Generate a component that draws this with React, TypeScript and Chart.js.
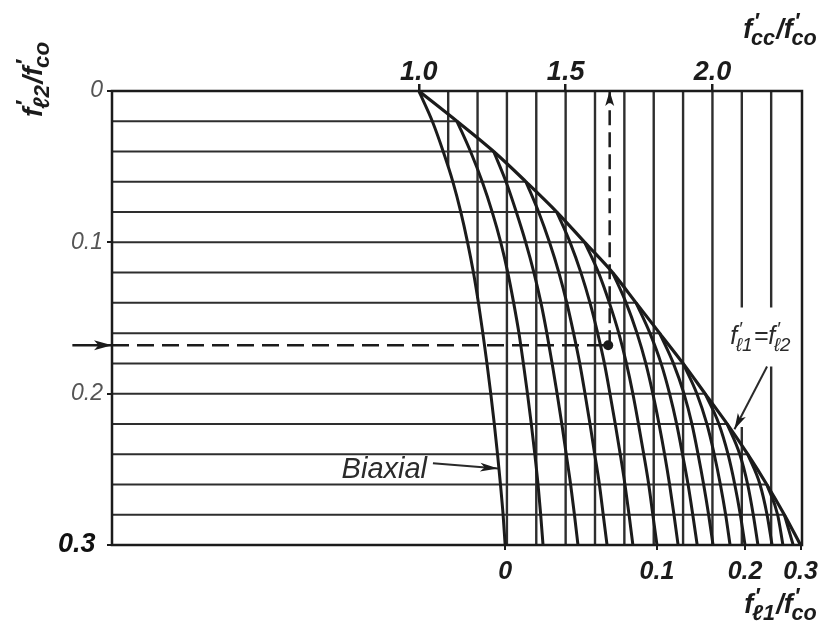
import React, { useEffect, useRef } from 'react';
import { Chart, registerables } from 'chart.js';

Chart.register(...registerables);

// ---- axis ranges ----
const X_MIN = -0.045; // f'cc/f'co at left frame
const X_MAX = 2.305; // f'cc/f'co at right frame
const Y_MIN = 0;
const Y_MAX = 0.3;

// ---- data ----
// f'l2/f'co levels (horizontal grid, 0 at top)
const FL2_LEVELS = [0, 0.02, 0.04, 0.06, 0.08, 0.1, 0.12, 0.14, 0.16, 0.18, 0.2, 0.22, 0.24, 0.26, 0.28, 0.3];
// envelope f'l1 = f'l2 : f'cc/f'co at each level
const ENVELOPE_FCC = [1.0, 1.13, 1.255, 1.365, 1.47, 1.565, 1.66, 1.74, 1.82, 1.9, 1.975, 2.05, 2.12, 2.185, 2.245, 2.3];
// smallest confining ratio f'l1/f'co of each curve
const FL1_VALUES = [0, 0.02, 0.04, 0.06, 0.08, 0.1, 0.12, 0.14, 0.16, 0.18, 0.2, 0.22, 0.24, 0.26, 0.28];
// f'cc/f'co along each curve, curve k starts at FL2_LEVELS[k] (on the envelope) and runs to 0.3
const CURVE_FCC = [
  [1.0, 1.046, 1.083, 1.116, 1.143, 1.166, 1.186, 1.203, 1.218, 1.232, 1.245, 1.257, 1.268, 1.278, 1.287, 1.294],
  [1.13, 1.176, 1.216, 1.25, 1.279, 1.303, 1.323, 1.341, 1.356, 1.37, 1.383, 1.395, 1.406, 1.415, 1.423],
  [1.255, 1.297, 1.332, 1.364, 1.392, 1.416, 1.436, 1.454, 1.471, 1.487, 1.502, 1.517, 1.53, 1.542],
  [1.365, 1.408, 1.445, 1.477, 1.504, 1.527, 1.548, 1.566, 1.583, 1.599, 1.615, 1.628, 1.641],
  [1.47, 1.515, 1.552, 1.583, 1.609, 1.632, 1.651, 1.669, 1.686, 1.702, 1.716, 1.729],
  [1.565, 1.612, 1.649, 1.681, 1.707, 1.729, 1.748, 1.766, 1.783, 1.797, 1.811],
  [1.66, 1.706, 1.743, 1.773, 1.797, 1.818, 1.837, 1.854, 1.869, 1.883],
  [1.74, 1.787, 1.825, 1.854, 1.878, 1.898, 1.917, 1.933, 1.948],
  [1.82, 1.867, 1.903, 1.93, 1.951, 1.97, 1.987, 2.002],
  [1.9, 1.947, 1.981, 2.006, 2.027, 2.045, 2.06],
  [1.975, 2.022, 2.053, 2.076, 2.095, 2.111],
  [2.05, 2.093, 2.12, 2.139, 2.155],
  [2.12, 2.162, 2.186, 2.203],
  [2.185, 2.222, 2.24],
  [2.245, 2.275],
];

// vertical grid segments (f'cc/f'co) with their f'l2 extent
const VGRID_X = [1.1, 1.2, 1.3, 1.4, 1.5, 1.6, 1.7, 1.8, 1.9, 2.0, 2.1, 2.1, 2.2, 2.2];
const VGRID_FROM = [0, 0, 0, 0, 0, 0, 0, 0, 0, 0, 0, 0.222, 0, 0.182];
const VGRID_TO = [0.05, 0.137, 0.3, 0.3, 0.3, 0.3, 0.3, 0.3, 0.3, 0.3, 0.143, 0.3, 0.143, 0.3];

// tick labels
const TOP_TICKS = [1.0, 1.5, 2.0];
const TOP_LABELS = ['1.0', '1.5', '2.0'];
const LEFT_TICKS = [0, 0.1, 0.2, 0.3];
const LEFT_LABELS = ['0', '0.1', '0.2', '0.3 '];
const BOTTOM_LABEL_FL1 = [0, 0.1, 0.2, 0.3];
const BOTTOM_LABELS = ['0', '0.1', '0.2', '0.3'];

// worked example (dashed)
const EXAMPLE_FL2 = 0.168;
const EXAMPLE_FCC = 1.645;
const EXAMPLE_ARROW_FCC = 1.65;
const ENTRY_ARROW_FCC = -0.18;

// annotation arrows
const BIAXIAL_ARROW_X = [1.048, 1.27];
const BIAXIAL_ARROW_Y = [0.246, 0.2495];
const ENV_ARROW_X = [2.186, 2.075];
const ENV_ARROW_Y = [0.182, 0.2235];

const FAMILY = "'Liberation Sans', 'DejaVu Sans', sans-serif";
const INK = '#1b1b1b';
const GRID_INK = '#2e2e2e';

function bottomEndFcc(fl1: number): number {
  const k = FL1_VALUES.findIndex((v) => Math.abs(v - fl1) < 1e-9);
  if (k >= 0) return CURVE_FCC[k][CURVE_FCC[k].length - 1];
  return ENVELOPE_FCC[ENVELOPE_FCC.length - 1];
}
const BOTTOM_TICKS = BOTTOM_LABEL_FL1.map(bottomEndFcc);

type Tok = { m: string; p?: boolean; s?: string };

function drawRich(
  ctx: CanvasRenderingContext2D,
  toks: Tok[],
  x: number,
  y: number,
  size: number,
  bold: boolean,
  align: 'left' | 'right' | 'center',
  color: string,
  subScale = 0.8
) {
  const font = (sz: number) => `italic ${bold ? 'bold ' : ''}${sz}px ${FAMILY}`;
  const subSz = size * subScale;
  const widths = toks.map((t) => {
    ctx.font = font(size);
    const wm = ctx.measureText(t.m).width;
    ctx.font = font(subSz);
    const ws = t.s ? ctx.measureText(t.s).width : 0;
    const wp = t.p ? ctx.measureText('\u2032').width + size * 0.05 : 0;
    return { wm, extra: Math.max(ws, wp) };
  });
  const total = widths.reduce((a, w) => a + w.wm + w.extra, 0);
  let cx = align === 'left' ? x : align === 'right' ? x - total : x - total / 2;
  ctx.fillStyle = color;
  ctx.textBaseline = 'alphabetic';
  ctx.textAlign = 'left';
  toks.forEach((t, i) => {
    ctx.font = font(size);
    ctx.fillText(t.m, cx, y);
    cx += widths[i].wm;
    ctx.font = font(subSz);
    if (t.p) ctx.fillText('\u2032', cx + size * 0.05, y - size * 0.38);
    if (t.s) ctx.fillText(t.s, cx - size * 0.05, y + size * 0.26);
    cx += widths[i].extra;
  });
}

const TOP_TITLE: Tok[] = [{ m: 'f', p: true, s: 'cc' }, { m: '/' }, { m: 'f', p: true, s: 'co' }];
const BOTTOM_TITLE: Tok[] = [{ m: 'f', p: true, s: '\u21131' }, { m: '/' }, { m: 'f', p: true, s: 'co' }];
const LEFT_TITLE: Tok[] = [{ m: 'f', p: true, s: '\u21132' }, { m: '/' }, { m: 'f', p: true, s: 'co' }];
const ENV_LABEL: Tok[] = [{ m: 'f', p: true, s: '\u21131' }, { m: '=' }, { m: 'f', p: true, s: '\u21132' }];

const framePlugin = {
  id: 'frame',
  beforeDraw(chart: any) {
    const { ctx, width, height } = chart;
    ctx.save();
    ctx.fillStyle = '#ffffff';
    ctx.fillRect(0, 0, width, height);
    ctx.restore();
  },
  afterDatasetsDraw(chart: any) {
    const { ctx, chartArea: a } = chart;
    ctx.save();
    ctx.strokeStyle = INK;
    ctx.lineWidth = 2.5;
    ctx.strokeRect(a.left, a.top, a.right - a.left, a.bottom - a.top);
    ctx.restore();
  },
};

const arrowPlugin = {
  id: 'arrowheads',
  afterDatasetsDraw(chart: any) {
    const ctx = chart.ctx;
    chart.data.datasets.forEach((ds: any, i: number) => {
      if (!ds.arrowHead) return;
      const pts = chart.getDatasetMeta(i).data;
      const a = pts[pts.length - 2];
      const b = pts[pts.length - 1];
      const ang = Math.atan2(b.y - a.y, b.x - a.x);
      const L = ds.arrowLength || 15;
      const W = ds.arrowWidth || 4.5;
      ctx.save();
      ctx.setLineDash([]);
      ctx.fillStyle = INK;
      ctx.translate(b.x, b.y);
      ctx.rotate(ang);
      ctx.beginPath();
      ctx.moveTo(0, 0);
      ctx.lineTo(-L, -W);
      ctx.lineTo(-L * 0.75, 0);
      ctx.lineTo(-L, W);
      ctx.closePath();
      ctx.fill();
      ctx.restore();
    });
  },
};

const textPlugin = {
  id: 'texts',
  afterDraw(chart: any) {
    const ctx: CanvasRenderingContext2D = chart.ctx;
    const sx = chart.scales.x;
    const sy = chart.scales.y;
    ctx.save();
    // top axis title
    drawRich(ctx, TOP_TITLE, 818, 38, 27, true, 'right', INK);
    // bottom axis title
    drawRich(ctx, BOTTOM_TITLE, 818, 613, 27, true, 'right', INK);
    // left axis title (rotated)
    ctx.save();
    ctx.translate(42, 117);
    ctx.rotate(-Math.PI / 2);
    drawRich(ctx, LEFT_TITLE, 0, 0, 28, true, 'left', INK);
    ctx.restore();
    // envelope label
    drawRich(ctx, ENV_LABEL, 761, 344, 25, false, 'center', '#2a2a2a', 0.75);
    // Biaxial label
    ctx.font = `italic 29px ${FAMILY}`;
    ctx.fillStyle = '#2a2a2a';
    ctx.textAlign = 'right';
    ctx.textBaseline = 'alphabetic';
    ctx.fillText('Biaxial', sx.getPixelForValue(1.028), sy.getPixelForValue(0.2555));
    ctx.restore();
  },
};

function line(data: { x: number; y: number }[], extra: any = {}) {
  return {
    data,
    showLine: true,
    pointRadius: 0,
    pointHoverRadius: 0,
    borderColor: INK,
    borderWidth: 2,
    fill: false,
    ...extra,
  };
}

function buildDatasets() {
  const ds: any[] = [];
  // family of curves (constant f'l1)
  CURVE_FCC.forEach((vals, k) => {
    ds.push(
      line(
        vals.map((x, j) => ({ x, y: FL2_LEVELS[k + j] })),
        { borderWidth: 3, cubicInterpolationMode: 'monotone', order: 1 }
      )
    );
  });
  // envelope f'l1 = f'l2
  ds.push(
    line(
      ENVELOPE_FCC.map((x, j) => ({ x, y: FL2_LEVELS[j] })),
      { borderWidth: 3.2, cubicInterpolationMode: 'monotone', order: 1 }
    )
  );
  // horizontal grid, clipped at envelope
  FL2_LEVELS.forEach((y, j) => {
    if (j === 0 || j === FL2_LEVELS.length - 1) return;
    ds.push(line([{ x: X_MIN, y }, { x: ENVELOPE_FCC[j], y }], { borderColor: GRID_INK, borderWidth: 2, order: 5 }));
  });
  // vertical grid
  VGRID_X.forEach((x, i) => {
    ds.push(line([{ x, y: VGRID_FROM[i] }, { x, y: VGRID_TO[i] }], { borderColor: GRID_INK, borderWidth: 2.4, order: 5 }));
  });
  // worked example
  ds.push(
    line([{ x: X_MIN, y: EXAMPLE_FL2 }, { x: EXAMPLE_FCC, y: EXAMPLE_FL2 }], {
      borderDash: [17, 8],
      borderWidth: 2.5,
      order: 0,
    })
  );
  ds.push(
    line([{ x: EXAMPLE_ARROW_FCC, y: EXAMPLE_FL2 }, { x: EXAMPLE_ARROW_FCC, y: Y_MIN }], {
      borderDash: [15, 7],
      borderWidth: 2.5,
      order: 0,
      arrowHead: true,
    })
  );
  ds.push(
    line([{ x: ENTRY_ARROW_FCC, y: EXAMPLE_FL2 }, { x: X_MIN, y: EXAMPLE_FL2 }], {
      borderWidth: 2.5,
      order: 0,
      clip: false,
      arrowHead: true,
      arrowLength: 18,
      arrowWidth: 5,
    })
  );
  ds.push({
    data: [{ x: EXAMPLE_FCC, y: EXAMPLE_FL2 }],
    showLine: false,
    pointRadius: 5,
    pointHoverRadius: 5,
    pointBackgroundColor: INK,
    pointBorderColor: INK,
    pointBorderWidth: 0,
    order: 0,
  });
  // annotation arrows
  ds.push(
    line(BIAXIAL_ARROW_X.map((x, i) => ({ x, y: BIAXIAL_ARROW_Y[i] })), {
      borderWidth: 2,
      borderColor: '#2a2a2a',
      order: 0,
      arrowHead: true,
      arrowLength: 18,
      arrowWidth: 4.5,
    })
  );
  ds.push(
    line(ENV_ARROW_X.map((x, i) => ({ x, y: ENV_ARROW_Y[i] })), {
      borderWidth: 2,
      borderColor: '#2a2a2a',
      order: 0,
      arrowHead: true,
      arrowLength: 16,
      arrowWidth: 4.5,
    })
  );
  return ds;
}

export default function App() {
  const ref = useRef<HTMLCanvasElement | null>(null);

  useEffect(() => {
    if (!ref.current) return;
    const tickFontBold = (size: number) => ({ family: FAMILY, size, style: 'italic' as const, weight: 'bold' as const, lineHeight: 1 });
    const chart = new Chart(ref.current, {
      type: 'scatter',
      data: { datasets: buildDatasets() },
      plugins: [framePlugin, arrowPlugin, textPlugin],
      options: {
        responsive: false,
        animation: false,
        devicePixelRatio: 1,
        events: [],
        layout: { padding: { left: 0, right: 24, top: 0, bottom: 0 } },
        plugins: { legend: { display: false }, tooltip: { enabled: false } },
        scales: {
          x: {
            type: 'linear',
            position: 'top',
            min: X_MIN,
            max: X_MAX,
            bounds: 'data',
            afterBuildTicks: (s: any) => {
              s.ticks = TOP_TICKS.map((v) => ({ value: v }));
            },
            afterFit: (s: any) => {
              s.height = 91;
              s.paddingLeft = 0;
              s.paddingRight = 0;
              s.paddingTop = 0;
              s.paddingBottom = 0;
            },
            ticks: {
              autoSkip: false,
              maxRotation: 0,
              minRotation: 0,
              padding: -2,
              color: INK,
              font: tickFontBold(27),
              callback: (_v: any, i: number) => TOP_LABELS[i],
            },
            grid: { display: true, drawOnChartArea: false, drawTicks: true, tickLength: 7, color: INK, lineWidth: 2.5 },
            border: { display: false },
          },
          x2: {
            type: 'linear',
            position: 'bottom',
            min: X_MIN,
            max: X_MAX,
            bounds: 'data',
            afterBuildTicks: (s: any) => {
              s.ticks = BOTTOM_TICKS.map((v) => ({ value: v }));
            },
            afterFit: (s: any) => {
              s.height = 85;
              s.paddingLeft = 0;
              s.paddingRight = 0;
              s.paddingTop = 0;
              s.paddingBottom = 0;
            },
            ticks: {
              autoSkip: false,
              maxRotation: 0,
              minRotation: 0,
              padding: 10,
              color: INK,
              font: tickFontBold(25),
              callback: (_v: any, i: number) => BOTTOM_LABELS[i],
            },
            grid: { display: true, drawOnChartArea: false, drawTicks: true, tickLength: 5, color: INK, lineWidth: 2 },
            border: { display: false },
          },
          y: {
            type: 'linear',
            position: 'left',
            reverse: true,
            min: Y_MIN,
            max: Y_MAX,
            bounds: 'data',
            afterBuildTicks: (s: any) => {
              s.ticks = LEFT_TICKS.map((v) => ({ value: v }));
            },
            afterFit: (s: any) => {
              s.width = 112;
              s.paddingLeft = 0;
              s.paddingRight = 0;
              s.paddingTop = 0;
              s.paddingBottom = 0;
            },
            ticks: {
              autoSkip: false,
              padding: 4,
              color: (c: any) => (c.index === 3 ? '#111111' : '#555555'),
              font: (c: any) =>
                c.index === 3
                  ? { family: FAMILY, size: 27, style: 'italic', weight: 'bold', lineHeight: 1 }
                  : { family: FAMILY, size: 23, style: 'italic', weight: 'normal', lineHeight: 1 },
              callback: (_v: any, i: number) => LEFT_LABELS[i],
            },
            grid: { display: true, drawOnChartArea: false, drawTicks: true, tickLength: 5, color: INK, lineWidth: 2 },
            border: { display: false },
          },
        },
      } as any,
    });
    return () => chart.destroy();
  }, []);

  return (
    <div style={{ position: 'absolute', left: 0, top: 0, width: 826, height: 630, background: '#ffffff' }}>
      <canvas ref={ref} width={826} height={630} style={{ display: 'block', width: 826, height: 630 }} />
    </div>
  );
}
